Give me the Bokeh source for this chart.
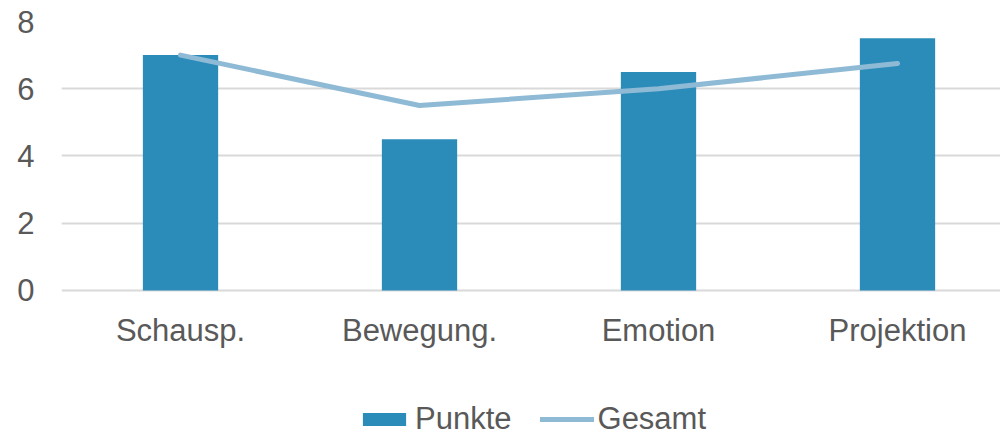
from bokeh.plotting import figure
from bokeh.models import FixedTicker, Legend, LegendItem, Range1d
from bokeh.embed import file_html
from bokeh.resources import INLINE
from bokeh.core.properties import value

categories = ["Schausp.", "Bewegung.", "Emotion", "Projektion"]
punkte = [7.0, 4.5, 6.5, 7.5]
gesamt = [7.0, 5.5, 6.0, 6.75]
y_ticks = [0, 2, 4, 6, 8]

idx = list(range(len(categories)))

TEXT = "#595959"
FONT = "Liberation Sans"

# frame spans the whole lower area so the legend can sit at the bottom
p = figure(width=1000, height=437, output_backend="svg", toolbar_location=None,
           x_range=Range1d(-0.498, 3.431), y_range=Range1d(-4.372, 8),
           x_axis_location=None,
           min_border_left=61, min_border_top=21, min_border_right=0,
           min_border_bottom=0)
p.outline_line_color = None
p.background_fill_color = "white"
p.border_fill_color = "white"

bars = p.vbar(x=idx, top=punkte, width=0.315, fill_color="#2B8CBA", line_color=None)
line = p.line(x=idx, y=gesamt, line_width=5, line_color="#8FBAD5",
              line_cap="round", line_join="round")

# category labels under the zero line
p.text(x=idx, y=[0] * len(idx), text=categories, y_offset=40,
       text_align="center", text_baseline="middle",
       text_font=value(FONT), text_font_size="31px", text_color=TEXT)

p.xgrid.visible = False
p.ygrid.grid_line_color = "#D9D9D9"
p.ygrid.grid_line_width = 2
p.ygrid.ticker = FixedTicker(ticks=y_ticks)

p.yaxis.ticker = FixedTicker(ticks=y_ticks)
p.yaxis.axis_line_color = None
p.yaxis.major_tick_line_color = None
p.yaxis.minor_tick_line_color = None
p.yaxis.major_tick_out = 0
p.yaxis.major_label_standoff = 27
p.yaxis.major_label_text_font_size = "31px"
p.yaxis.major_label_text_color = TEXT
p.yaxis.major_label_text_font = FONT

legend = Legend(items=[LegendItem(label="Punkte", renderers=[bars]),
                       LegendItem(label="Gesamt", renderers=[line])],
                orientation="horizontal", location=(296, 0),
                glyph_width=54, glyph_height=16, label_standoff=4,
                spacing=28, padding=0, margin=0,
                label_text_font_size="31px", label_text_color=TEXT,
                label_text_font=FONT, border_line_color=None,
                background_fill_alpha=0)
p.add_layout(legend, "center")

open("out.html", "w").write(file_html(p, INLINE))
